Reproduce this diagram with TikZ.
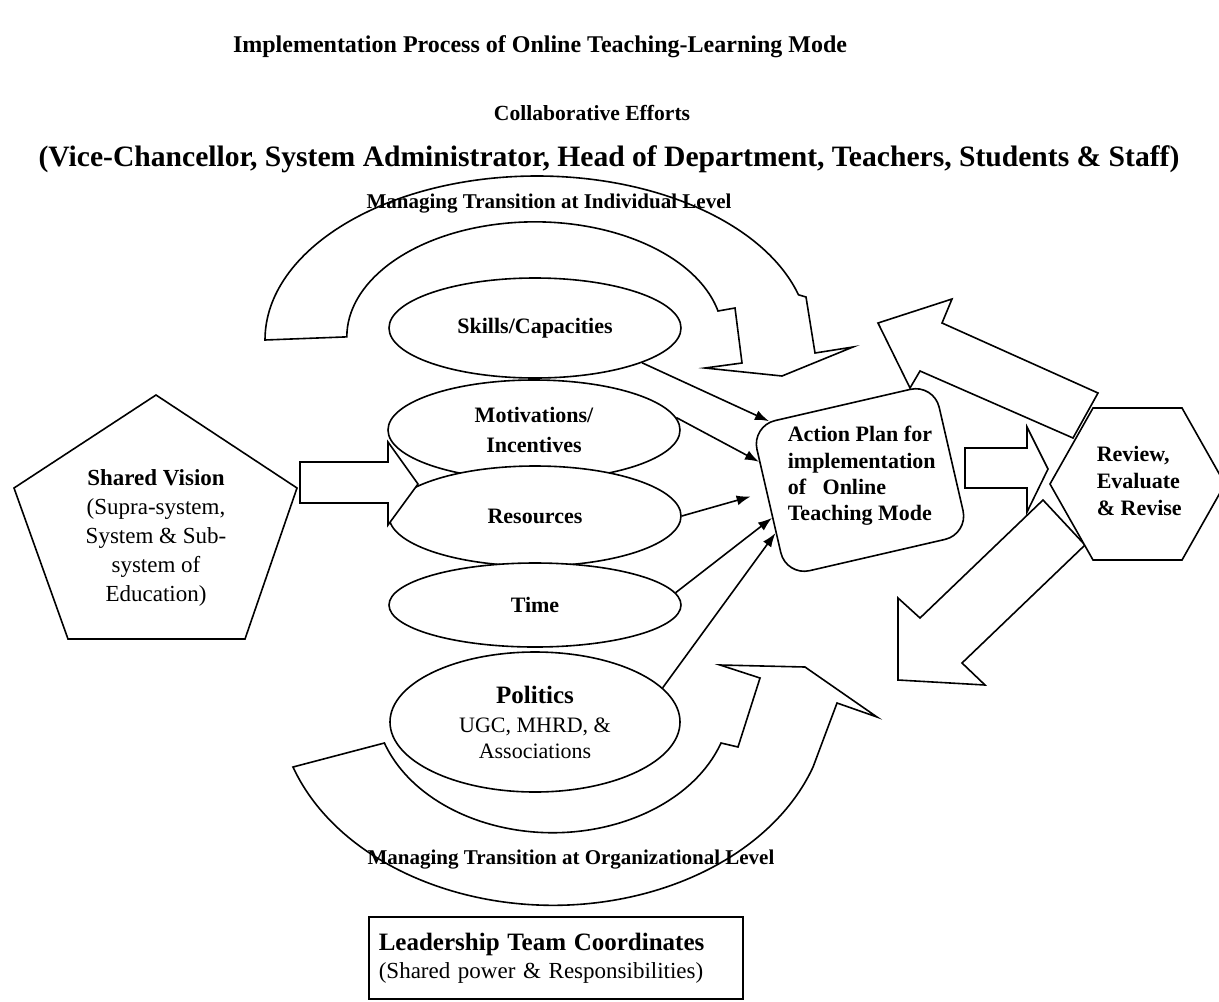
\documentclass[tikz,border=0pt]{standalone}
\usepackage{fontspec}
\setmainfont{Liberation Serif}
\usetikzlibrary{arrows.meta,calc,shapes.geometric}

\begin{document}
\begin{tikzpicture}[x=0.5pt,y=-0.5pt,line width=0.8pt,
    every node/.style={inner sep=0pt},
    heading/.style={font=\fontsize{12}{14}\selectfont\bfseries},
    bandtext/.style={font=\fontsize{10.5}{12}\selectfont\bfseries},
    blob/.style={draw,fill=white,ellipse,minimum width=146pt,minimum height=50pt,
      align=center,font=\fontsize{11}{15}\selectfont\bfseries},
    block/.style={draw,fill=white,line join=miter},
    conn/.style={-{Latex[length=7pt,width=5pt]}}]
  \useasboundingbox (0,0) rectangle (1219,1001);

  % Headings
  \node[heading] (ttl) at (540,47) {Implementation Process of Online Teaching-Learning Mode};
  \node[heading,font=\fontsize{10.8}{13}\selectfont\bfseries] (col) at (592,113) {Collaborative Efforts};
  \node[heading,font=\fontsize{14.8}{17}\selectfont\bfseries] (who) at (609,159) {(Vice-Chancellor, System Administrator, Head of Department, Teachers, Students \& Staff)};

  % Curved arrow over the top (individual level)
  \draw[block] (265,340) arc[start angle=180,end angle=344,x radius=272,y radius=164]
    -- (806,297) -- (815,353) -- (853,347) -- (782,376) -- (705,368) -- (742,363)
    -- (735,308) -- (718,311) arc[start angle=347,end angle=180,x radius=188,y radius=115] -- cycle;
  \node[bandtext] (ind) at (549,204) {Managing Transition at Individual Level};

  % Curved arrow underneath (organizational level)
  \draw[block] (293,767) arc[start angle=161,end angle=19,x radius=275,y radius=205]
    -- (837,703) -- (877,717) -- (805,667) -- (720,665) -- (760,678)
    -- (738,747) -- (721,743) arc[start angle=19,end angle=161,x radius=178,y radius=133] -- cycle;
  \node[bandtext] (org) at (571,860) {Managing Transition at Organizational Level};

  % The five factors, each one laid over the one above
  \node[blob] (sk) at (535,328) {Skills/Capacities};
  \node[blob] (mo) at (534,430) {Motivations/\\Incentives};
  \node[blob] (re) at (535,516) {Resources};
  \node[blob,minimum height=42pt] (ti) at (535,605) {Time};
  \node[blob,minimum width=145pt,minimum height=70pt] (po) at (535,722)
    {{\fontsize{12.5}{15}\selectfont Politics}\\[-0.5pt]{\mdseries UGC, MHRD, \&}\\[-2pt]{\mdseries Associations}};

  % Shared vision pentagon and its arrow
  \draw[block] (156,395) -- (297,488) -- (245,639) -- (68,639) -- (14,488) -- cycle;
  \node[align=center,font=\fontsize{11.5}{14.4}\selectfont] (sv) at (156,538)
    {{\bfseries Shared Vision}\\(Supra-system,\\System \& Sub-\\system of\\Education)};
  \draw[block] (300,462) -- (388,462) -- (388,442) -- (418,484) -- (388,525) -- (388,503) -- (300,503) -- cycle;

  % Feedback arrows leaving the review
  \draw[block] (1098,393) -- (942,323) -- (952,299) -- (878,323) -- (910,388) -- (920,371) -- (1073,438) -- cycle;
  \draw[block] (1043,500) -- (920,618) -- (898,598) -- (898,680) -- (985,685) -- (962,663) -- (1085,545) -- cycle;

  % Action plan (tilted box, upright text)
  \node[draw,fill=white,rounded corners=12pt,minimum width=93.5pt,minimum height=77pt,rotate=13] (ap) at (860,480) {};
  \node[anchor=west,align=left,font=\fontsize{11}{13.2}\selectfont\bfseries] (aptxt) at (787,476)
    {Action Plan for\\implementation\\of\ \ \ Online\\Teaching Mode};

  % Review hexagon
  \draw[block] (1050,484) -- (1093,408) -- (1182,408) -- (1225,484) -- (1182,560) -- (1093,560) -- cycle;
  \node[anchor=west,align=left,font=\fontsize{11}{13.3}\selectfont\bfseries] (rv) at (1096,481)
    {Review,\\Evaluate\\\& Revise};
  \draw[block] (965,448) -- (1027,448) -- (1027,427) -- (1048,469) -- (1027,512) -- (1027,488) -- (965,488) -- cycle;

  % Factors feed the action plan
  \draw[conn] (sk.-18) -- ($(ap.north west)!.1!(ap.north east)$);
  \foreach \src/\f/\gap in {mo.5/.24/0, re.east/.44/8, ti.5/.61/0, po.15/.71/0}
    \draw[conn,shorten >=\gap pt] (\src) -- ($(ap.north west)!\f!(ap.south west)$);

  % Leadership box
  \node[draw,anchor=north west,minimum width=187pt,minimum height=41pt,text width=177pt,
    inner xsep=5pt,align=left,font=\fontsize{11.5}{14}\selectfont] (lead) at (368,916)
    {{\fontsize{12.5}{15}\selectfont\bfseries Leadership Team Coordinates}\\(Shared power \& Responsibilities)};
\end{tikzpicture}
\end{document}
